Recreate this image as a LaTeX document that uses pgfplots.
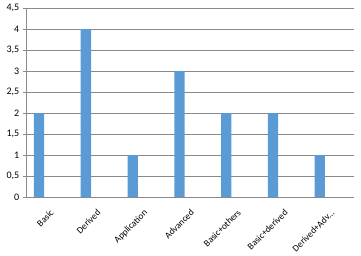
\documentclass[border=0pt]{standalone}
\usepackage{fontspec}
\setmainfont{Carlito}
\usepackage{pgfplots}
\pgfplotsset{compat=1.18}
\definecolor{barblue}{HTML}{5B9BD5}
\definecolor{gridgray}{HTML}{898989}
\begin{document}
\begin{tikzpicture}[x=1pt,y=1pt]
\path[use as bounding box] (-26,-58) rectangle (335,197);
\begin{axis}[
  at={(0,0)}, anchor=south west,
  scale only axis, width=327.5pt, height=189pt,
  xmin=-0.5, xmax=6.5, ymin=0, ymax=4.5,
  axis line style={gridgray},
  axis x line*=bottom, axis y line*=left,
  ytick={0,0.5,...,4.5},
  yticklabels={0,{0,5},1,{1,5},2,{2,5},3,{3,5},4,{4,5}},
  ymajorgrids, major grid style={gridgray, line width=0.8pt},
  ytick style={gridgray, line width=0.8pt},
  major tick length=3.5pt,
  tick align=outside,
  xtick={0,...,6},
  xticklabels={Basic,Derived,Application,Advanced,Basic+others,Basic+derived,Derived+Adv\ldots},
  xtick style={draw=none},
  extra x ticks={-0.5,0.5,...,6.5},
  extra x tick labels={},
  extra x tick style={xtick style={gridgray, line width=0.8pt}, major tick length=4pt, grid=none},
  x tick label style={rotate=45, anchor=north east, font=\fontsize{9.3}{11}\selectfont, inner sep=0.5pt, yshift=-5.5pt, xshift=-5pt},
  y tick label style={font=\fontsize{10}{11}\selectfont, inner sep=1pt, xshift=-2pt},
  tick label style={text=black},
]
\addplot[ybar, bar width=0.22, fill=barblue, draw=none, bar shift=0pt]
  coordinates {(-0.22,2) (0.78,4) (1.78,1) (2.78,3) (3.78,2) (4.78,2) (5.78,1)};
\end{axis}
\end{tikzpicture}
\end{document}
